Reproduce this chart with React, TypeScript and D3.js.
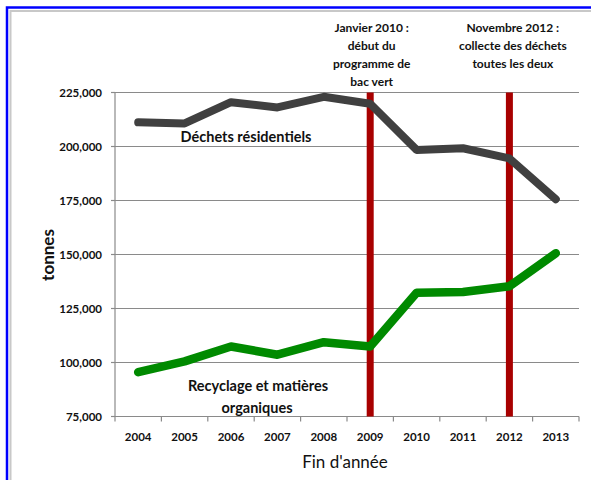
import React from "react";
import * as d3 from "d3";

const years = ["2004", "2005", "2006", "2007", "2008", "2009", "2010", "2011", "2012", "2013"];
const residentiels = [211200, 210700, 220500, 218100, 223000, 219800, 198400, 199200, 194500, 175600];
const recyclage = [95500, 100500, 107400, 103600, 109400, 107400, 132300, 132600, 135300, 150600];
const yTicks = [75000, 100000, 125000, 150000, 175000, 200000, 225000];
const eventYears = ["2009", "2012"];
const eventLabels = [
  ["Janvier 2010 :", "début du", "programme de", "bac vert"],
  ["Novembre 2012 :", "collecte des déchets", "toutes les deux"],
];

const W = 591;
const H = 480;
const FONT = "Lato, 'Open Sans', sans-serif";

export default function App() {
  const left = 115, right = 579, top = 92.5, bottom = 416.5;
  const x = d3.scaleBand<string>().domain(years).range([left, right]);
  const y = d3.scaleLinear().domain([75000, 225000]).range([bottom, top]);
  const cx = (d: string) => (x(d) as number) + x.bandwidth() / 2;
  const line = d3
    .line<number>()
    .x((_, i) => cx(years[i]))
    .y((v) => y(v));
  const fmt = d3.format(",");

  return (
    <svg width={W} height={H} style={{ position: "absolute", left: 0, top: 0, background: "#fff" }}>
      <rect x={0} y={0} width={W} height={H} fill="#fff" />
      {/* frame */}
      <rect x={7} y={7.5} width={W + 20} height={H + 20} fill="none" stroke="#0000ff" strokeWidth={2.5} />
      <rect x={10.5} y={11} width={W + 20} height={H + 20} fill="none" stroke="#c8c8c8" strokeWidth={2} />
      {/* gridlines */}
      {yTicks.map((t) => (
        <line key={t} x1={left} x2={right} y1={y(t)} y2={y(t)} stroke="#8a8a8a" strokeWidth={1.2} />
      ))}
      {/* y axis */}
      <line x1={left} x2={left} y1={top} y2={bottom} stroke="#8a8a8a" strokeWidth={1.2} />
      {yTicks.map((t) => (
        <g key={"yt" + t}>
          <line x1={left - 4} x2={left} y1={y(t)} y2={y(t)} stroke="#8a8a8a" strokeWidth={1.2} />
          <text x={102} y={y(t)} dy="0.35em" textAnchor="end" fontFamily={FONT} fontWeight="bold" fontSize={11.5} fill="#111">
            {fmt(t)}
          </text>
        </g>
      ))}
      {/* x axis */}
      <line x1={left} x2={right} y1={bottom} y2={bottom} stroke="#8a8a8a" strokeWidth={1.2} />
      {[...years.map((d) => x(d) as number), right].map((px, i) => (
        <line key={"xt" + i} x1={px} x2={px} y1={bottom} y2={bottom + 5} stroke="#8a8a8a" strokeWidth={1.2} />
      ))}
      {years.map((d) => (
        <text key={"xl" + d} x={cx(d)} y={437} dy="0.35em" textAnchor="middle" fontFamily={FONT} fontWeight="bold" fontSize={11.5} fill="#111">
          {d}
        </text>
      ))}
      {/* event lines */}
      {eventYears.map((d) => (
        <line key={"ev" + d} x1={cx(d)} x2={cx(d)} y1={top} y2={bottom} stroke="#a80000" strokeWidth={7} />
      ))}
      {/* series */}
      <path d={line(residentiels) || ""} fill="none" stroke="#404040" strokeWidth={8} strokeLinejoin="round" strokeLinecap="round" />
      <path d={line(recyclage) || ""} fill="none" stroke="#008a00" strokeWidth={8.5} strokeLinejoin="round" strokeLinecap="round" />
      {/* event labels */}
      {eventLabels.map((lines, k) => (
        <text key={"el" + k} textAnchor="middle" fontFamily={FONT} fontWeight="bold" fontSize={12} fill="#111">
          {lines.map((s, i) => (
            <tspan key={i} x={cx(eventYears[k]) + (k === 0 ? 1.5 : 3.5)} y={28 + i * 18} dy="0.35em">
              {s}
            </tspan>
          ))}
        </text>
      ))}
      {/* series labels */}
      <text x={246} y={137} dy="0.35em" textAnchor="middle" fontFamily={FONT} fontWeight="bold" fontSize={14.5} fill="#111">
        Déchets résidentiels
      </text>
      <text textAnchor="middle" fontFamily={FONT} fontWeight="bold" fontSize={14.5} fill="#111">
        <tspan x={258} y={386} dy="0.35em">Recyclage et matières</tspan>
        <tspan x={257} y={408} dy="0.35em">organiques</tspan>
      </text>
      {/* axis titles */}
      <text transform={`translate(48,255) rotate(-90)`} dy="0.35em" textAnchor="middle" fontFamily={FONT} fontWeight="bold" fontSize={17} fill="#111">
        tonnes
      </text>
      <text x={345} y={462} dy="0.35em" textAnchor="middle" fontFamily={FONT} fontSize={17} fill="#111">
        Fin d'année
      </text>
    </svg>
  );
}
